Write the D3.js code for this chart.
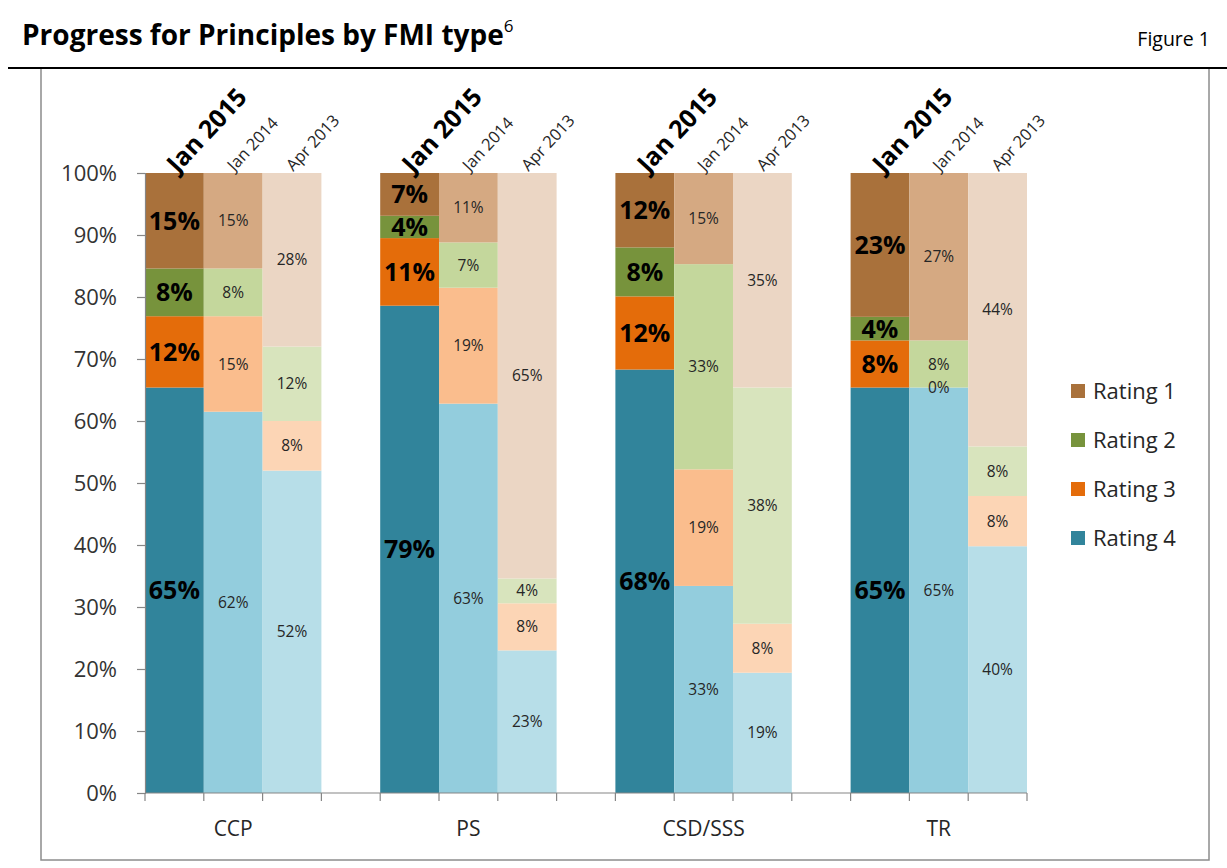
<!DOCTYPE html>
<html>
<head>
<meta charset="utf-8">
<script src="https://cdn.jsdelivr.net/npm/d3@7"></script>
<style>
  html, body { margin: 0; padding: 0; background: #fff; }
  svg { display: block; font-family: "Open Sans", "Noto Sans", sans-serif; }
</style>
</head>
<body>
<svg id="chart" width="1227" height="868"></svg>
<script>
// ---- data ----
const groups = ["CCP", "PS", "CSD/SSS", "TR"];
const periods = ["Jan 2015", "Jan 2014", "Apr 2013"];
const ratings = ["Rating 1", "Rating 2", "Rating 3", "Rating 4"];
// values per group, in period order (percent)
const rating4 = [[65.4, 61.5, 52], [78.6, 62.8, 23], [68.3, 33.4, 19.4], [65.4, 65.4, 39.8]];
const rating3 = [[11.5, 15.4, 8], [10.9, 18.7, 7.6], [11.8, 18.8, 7.9], [7.6, 0, 8.1]];
const rating2 = [[7.7, 7.7, 12], [3.6, 7.3, 4], [7.9, 33.1, 38.1], [3.8, 7.6, 8]];
const rating1 = [[15.4, 15.4, 28], [6.9, 11.2, 65.4], [12, 14.7, 34.6], [23.2, 27, 44.1]];
const yTicks = [0, 10, 20, 30, 40, 50, 60, 70, 80, 90, 100];
// colours [rating][period]
const colors = {
  "Rating 1": ["#a9713b", "#d5a982", "#ebd6c4"],
  "Rating 2": ["#77933c", "#c4d79c", "#d8e4bd"],
  "Rating 3": ["#e46c0a", "#fabd8d", "#fcd5b5"],
  "Rating 4": ["#31849b", "#93cddd", "#b7dee8"]
};
const seriesValues = { "Rating 1": rating1, "Rating 2": rating2, "Rating 3": rating3, "Rating 4": rating4 };

// ---- layout ----
const svg = d3.select("#chart");
const plot = { left: 145, right: 1027, top: 173, bottom: 793 };

// title / header
svg.append("text").attr("x", 22).attr("y", 45)
  .attr("font-size", 28).attr("font-weight", 700).attr("fill", "#000")
  .text("Progress for Principles by FMI type")
  .append("tspan").attr("font-size", 17).attr("font-weight", 400).attr("dy", -13).text("6");
svg.append("text").attr("x", 1210).attr("y", 46).attr("text-anchor", "end")
  .attr("font-size", 19.5).attr("fill", "#000").text("Figure 1");
svg.append("rect").attr("x", 41).attr("y", 68).attr("width", 1168).attr("height", 792)
  .attr("fill", "none").attr("stroke", "#8c8c8c").attr("stroke-width", 1.5);
svg.append("line").attr("x1", 8).attr("x2", 1227).attr("y1", 68).attr("y2", 68)
  .attr("stroke", "#000").attr("stroke-width", 2);

// scales
const x0 = d3.scaleBand().domain(groups).range([plot.left, plot.right]).paddingInner(0.25).paddingOuter(0);
const x1 = d3.scaleBand().domain(periods).range([0, x0.bandwidth()]).padding(0);
const y = d3.scaleLinear().domain([0, 100]).range([plot.bottom, plot.top]);

// build stacked segments
const segs = [];
groups.forEach((g, gi) => {
  periods.forEach((p, pi) => {
    let acc = 0;
    ["Rating 4", "Rating 3", "Rating 2", "Rating 1"].forEach(r => {
      const v = seriesValues[r][gi][pi];
      segs.push({ g, p, pi, r, v, y0: acc, y1: acc + v });
      acc += v;
    });
  });
});

const barG = svg.append("g");
barG.selectAll("rect").data(segs).join("rect")
  .attr("x", d => x0(d.g) + x1(d.p))
  .attr("width", x1.bandwidth())
  .attr("y", d => y(d.y1))
  .attr("height", d => y(d.y0) - y(d.y1))
  .attr("fill", d => colors[d.r][d.pi]);

// value labels
barG.selectAll("text").data(segs).join("text")
  .attr("x", d => x0(d.g) + x1(d.p) + x1.bandwidth() / 2)
  .attr("y", d => y((d.y0 + d.y1) / 2))
  .attr("dy", "0.36em")
  .attr("text-anchor", "middle")
  .attr("font-size", d => d.pi === 0 ? 25 : 15.5)
  .attr("font-weight", d => d.pi === 0 ? 700 : 400)
  .attr("fill", d => d.pi === 0 ? "#000" : "#262626")
  .text(d => Math.round(d.v) + "%");

// y axis
const yAxis = svg.append("g").attr("transform", `translate(${plot.left},0)`)
  .call(d3.axisLeft(y).tickValues(yTicks).tickFormat(d => d + "%").tickSize(8).tickPadding(20));
yAxis.select(".domain").attr("stroke", "#868686").attr("stroke-width", 1.2);
yAxis.selectAll(".tick line").attr("stroke", "#868686").attr("stroke-width", 1.2);
yAxis.selectAll(".tick text").attr("font-size", 22).attr("fill", "#333")
  .attr("font-family", "'Open Sans', sans-serif");

// x axis line & ticks at every slot boundary
const xAxisG = svg.append("g");
xAxisG.append("line").attr("x1", plot.left).attr("x2", plot.right)
  .attr("y1", plot.bottom).attr("y2", plot.bottom).attr("stroke", "#868686").attr("stroke-width", 1.2);
const tickXs = [];
groups.forEach((g, gi) => {
  for (let i = 0; i <= periods.length; i++) tickXs.push(x0(g) + i * x1.step());
});
xAxisG.selectAll("line.t").data(tickXs).join("line").attr("class", "t")
  .attr("x1", d => d).attr("x2", d => d).attr("y1", plot.bottom).attr("y2", plot.bottom + 8)
  .attr("stroke", "#868686").attr("stroke-width", 1.2);
xAxisG.selectAll("text").data(groups).join("text")
  .attr("x", d => x0(d) + x0.bandwidth() / 2).attr("y", 836)
  .attr("text-anchor", "middle").attr("font-size", 21).attr("fill", "#262626").text(d => d);

// period labels (rotated)
const pl = [];
groups.forEach(g => periods.forEach((p, pi) => pl.push({ g, p, pi })));
svg.append("g").selectAll("text").data(pl).join("text")
  .attr("transform", d => `translate(${x0(d.g) + x1(d.p) + x1.bandwidth() / 2 - 3},${plot.top - 5}) rotate(-47)`)
  .attr("dy", "0.35em")
  .attr("font-size", d => d.pi === 0 ? 25 : 16.5)
  .attr("font-weight", d => d.pi === 0 ? 700 : 400)
  .attr("fill", d => d.pi === 0 ? "#000" : "#262626")
  .text(d => d.p);

// legend
const lg = svg.append("g").selectAll("g").data(ratings).join("g")
  .attr("transform", (d, i) => `translate(1071,${391 + i * 49})`);
lg.append("rect").attr("x", 0).attr("y", -7).attr("width", 14).attr("height", 14)
  .attr("fill", d => colors[d][0]);
lg.append("text").attr("x", 22).attr("dy", "0.36em").attr("font-size", 22).attr("fill", "#262626").text(d => d);
</script>
</body>
</html>
